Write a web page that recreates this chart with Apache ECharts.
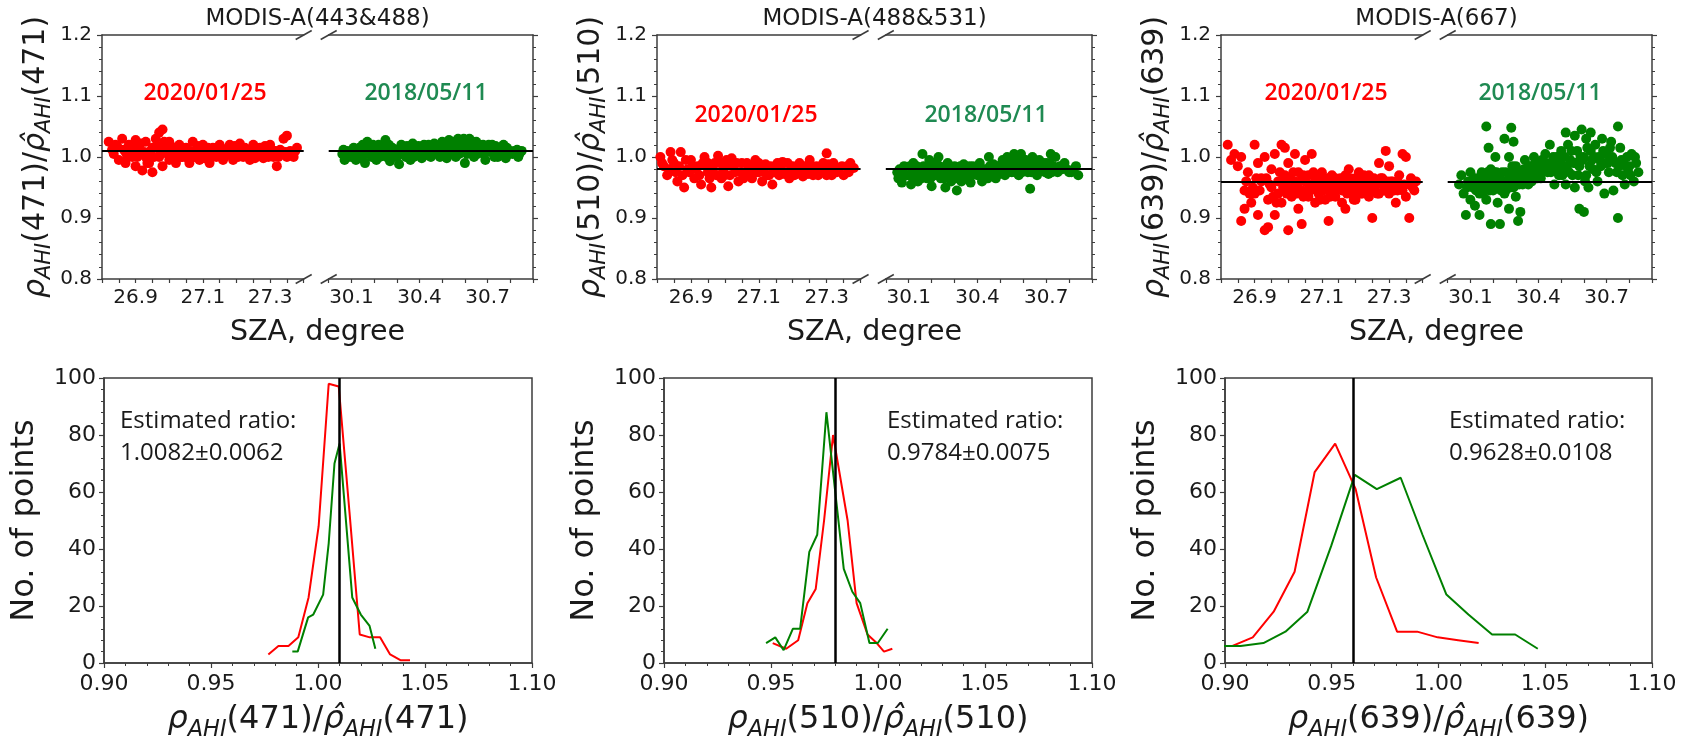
<!DOCTYPE html>
<html><head><meta charset="utf-8">
<script src="https://cdn.jsdelivr.net/npm/echarts@6/dist/echarts.min.js"></script>
<style>html,body{margin:0;padding:0;background:#fff}#c{width:1691px;height:742px}</style>
</head><body><div id="c"></div>
<script>
// ---------------- DATA ----------------
const topTitles = ['MODIS-A(443&488)', 'MODIS-A(488&531)', 'MODIS-A(667)'];
const bands = ['471', '510', '639'];
const ratios = [1.0082, 0.9784, 0.9628];
const ratioSd = [0.0062, 0.0075, 0.0108];
const dateRed = '2020/01/25';
const dateGreen = '2018/05/11';
const yTicksTop = [0.8, 0.9, 1.0, 1.1, 1.2];
const xRangeLeft = [26.8, 27.4];
const xRangeRight = [30.0, 30.9];
const xTicksLeft = [26.9, 27.1, 27.3];
const xTicksRight = [30.1, 30.4, 30.7];
const xTicksBottom = [0.90, 0.95, 1.00, 1.05, 1.10];
const yTicksBottom = [0, 20, 40, 60, 80, 100];

const p1Red = [[26.82,1.025],[26.83,1.012],[26.84,1.02],[26.85,0.995],[26.86,1.03],[26.87,1.008],[26.87,0.99],[26.88,1.02],[26.89,1.0],[26.9,1.028],[26.9,0.985],[26.91,1.012],[26.92,0.978],[26.93,1.0],[26.93,1.025],[26.94,0.99],[26.95,1.015],[26.95,0.975],[26.96,1.03],[26.97,1.0],[26.97,1.04],[26.98,1.045],[26.98,0.985],[26.99,1.015],[27.0,0.995],[27.0,1.025],[27.01,1.01],[27.02,0.99],[27.03,1.02],[27.04,1.0],[27.05,1.015],[27.05,1.005],[27.06,0.99],[27.07,1.025],[27.08,1.005],[27.09,0.995],[27.1,1.02],[27.11,1.005],[27.12,0.99],[27.12,1.01],[27.13,1.015],[27.14,1.0],[27.15,1.02],[27.16,0.995],[27.17,1.01],[27.18,1.02],[27.18,1.005],[27.19,0.995],[27.2,1.01],[27.21,1.022],[27.22,1.0],[27.23,1.012],[27.24,0.995],[27.25,1.02],[27.25,1.005],[27.26,1.005],[27.27,1.015],[27.28,0.998],[27.29,1.01],[27.3,1.02],[27.3,1.005],[27.31,1.0],[27.32,0.985],[27.33,1.012],[27.34,1.03],[27.35,1.035],[27.35,1.0],[27.36,1.01],[27.37,1.0],[27.38,1.015],
[26.835,1.005],[26.845,1.018],[26.865,1.012],[26.875,1.0],[26.885,1.01],[26.895,1.015],[26.905,1.0],[26.915,1.022],[26.925,1.008],[26.935,0.99],[26.945,1.01],[26.955,1.0],[26.965,1.018],[26.975,1.008],[26.985,1.025],[26.995,1.005],[27.005,1.018],[27.015,0.998],[27.025,1.008],[27.035,1.0],[27.045,1.012],[27.055,0.998],[27.065,1.01],[27.075,1.0],[27.085,1.018],[27.095,1.008],[27.105,0.998],[27.115,1.015],[27.125,1.002],[27.135,1.005],[27.145,1.012],[27.155,1.005],[27.165,1.0],[27.175,1.015],[27.185,1.01],[27.195,1.018],[27.205,1.0],[27.215,1.008],[27.225,1.015],[27.235,1.003],[27.245,1.01],[27.255,0.998],[27.265,1.012],[27.275,1.006],[27.285,1.018],[27.295,1.0],[27.305,1.012],[27.315,1.01],[27.325,1.0],[27.345,1.008],[27.365,1.005],[27.375,1.01]];
const p1Green = [[30.06,1.005],[30.07,0.995],[30.08,1.01],[30.1,1.0],[30.11,1.015],[30.12,0.995],[30.14,1.008],[30.15,1.02],[30.16,0.99],[30.17,1.025],[30.18,1.005],[30.2,1.015],[30.21,0.995],[30.22,1.02],[30.23,1.005],[30.25,1.028],[30.26,1.01],[30.27,0.993],[30.28,1.015],[30.3,1.0],[30.31,0.988],[30.32,1.02],[30.33,1.005],[30.35,1.012],[30.36,0.995],[30.37,1.022],[30.39,1.005],[30.4,1.015],[30.41,0.998],[30.43,1.01],[30.44,1.02],[30.45,1.0],[30.47,1.015],[30.48,1.005],[30.5,1.025],[30.51,1.01],[30.52,0.998],[30.53,1.028],[30.55,1.015],[30.56,1.0],[30.57,1.03],[30.58,1.012],[30.6,1.025],[30.6,0.99],[30.61,1.005],[30.62,1.03],[30.63,1.015],[30.64,1.0],[30.65,1.025],[30.67,1.01],[30.68,1.02],[30.69,0.995],[30.7,1.01],[30.72,1.02],[30.73,1.0],[30.74,1.012],[30.76,1.005],[30.77,1.02],[30.78,0.998],[30.8,1.01],[30.81,1.005],[30.83,1.012],[30.84,1.005],[30.85,1.01],
[30.065,1.012],[30.085,1.0],[30.095,1.008],[30.105,1.012],[30.125,1.005],[30.135,1.015],[30.145,0.998],[30.155,1.01],[30.165,1.005],[30.175,1.012],[30.19,1.0],[30.195,1.02],[30.205,1.008],[30.215,1.012],[30.225,1.0],[30.235,1.015],[30.245,1.005],[30.255,1.0],[30.265,1.02],[30.275,1.008],[30.285,1.003],[30.295,1.012],[30.305,1.01],[30.315,1.005],[30.325,1.01],[30.34,1.0],[30.345,1.018],[30.355,1.005],[30.365,1.01],[30.375,1.0],[30.38,1.012],[30.395,1.018],[30.405,1.005],[30.415,1.01],[30.42,1.02],[30.435,1.003],[30.445,1.01],[30.455,1.015],[30.46,1.005],[30.465,1.022],[30.475,1.01],[30.485,1.018],[30.49,1.0],[30.495,1.012],[30.505,1.018],[30.515,1.022],[30.525,1.012],[30.535,1.005],[30.54,1.018],[30.545,1.025],[30.555,1.008],[30.565,1.02],[30.575,1.005],[30.585,1.022],[30.59,1.01],[30.595,1.03],[30.605,1.015],[30.615,1.02],[30.625,1.008],[30.635,1.025],[30.645,1.012],[30.655,1.005],[30.66,1.018],[30.675,1.015],[30.685,1.005],[30.695,1.015],[30.705,1.02],[30.715,1.008],[30.725,1.012],[30.735,1.018],[30.745,1.0],[30.755,1.015],[30.765,1.01],[30.775,1.008],[30.785,1.015],[30.795,1.005],[30.82,1.01],[30.835,1.0]];
const p2Red = [[26.81,1.0],[26.82,0.985],[26.83,0.97],[26.84,1.008],[26.85,0.99],[26.86,0.96],[26.87,1.008],[26.88,0.95],[26.89,0.98],[26.9,0.995],[26.91,0.965],[26.92,0.985],[26.93,0.955],[26.94,1.0],[26.95,0.975],[26.95,0.99],[26.96,0.95],[26.97,0.99],[26.98,1.002],[26.99,0.965],[27.0,0.985],[27.0,0.97],[27.01,0.952],[27.02,0.998],[27.03,0.975],[27.04,0.96],[27.05,0.99],[27.05,0.975],[27.06,0.97],[27.07,0.982],[27.08,0.965],[27.09,0.995],[27.1,0.975],[27.1,0.99],[27.11,0.96],[27.12,0.988],[27.13,0.97],[27.14,0.955],[27.15,0.985],[27.15,0.975],[27.16,0.97],[27.17,0.992],[27.18,0.975],[27.19,0.965],[27.2,0.985],[27.2,0.975],[27.21,0.972],[27.22,0.99],[27.23,0.968],[27.24,0.98],[27.25,0.995],[27.25,0.98],[27.26,0.97],[27.27,0.985],[27.28,0.975],[27.29,0.99],[27.3,1.006],[27.3,0.97],[27.31,0.98],[27.32,0.99],[27.33,0.975],[27.35,0.97],[27.36,0.985],[27.37,0.99],[27.38,0.982],
[26.815,0.99],[26.835,0.98],[26.845,0.995],[26.855,0.975],[26.865,0.985],[26.875,0.97],[26.885,0.995],[26.895,0.975],[26.905,0.985],[26.915,0.98],[26.925,0.97],[26.935,0.99],[26.945,0.985],[26.955,0.965],[26.965,0.98],[26.975,0.97],[26.985,0.99],[26.995,0.978],[27.005,0.995],[27.015,0.97],[27.025,0.985],[27.035,0.99],[27.045,0.975],[27.055,0.965],[27.065,0.99],[27.075,0.972],[27.085,0.985],[27.095,0.975],[27.105,0.985],[27.115,0.975],[27.125,0.97],[27.135,0.985],[27.145,0.975],[27.155,0.99],[27.165,0.98],[27.175,0.972],[27.185,0.99],[27.195,0.978],[27.205,0.97],[27.215,0.985],[27.225,0.978],[27.235,0.985],[27.245,0.972],[27.255,0.985],[27.265,0.978],[27.275,0.97],[27.285,0.985],[27.295,0.975],[27.305,0.988],[27.315,0.97],[27.325,0.98],[27.345,0.985],[27.365,0.975]];
const p2Green = [[30.05,0.975],[30.06,0.98],[30.07,0.958],[30.08,0.985],[30.1,0.97],[30.11,0.955],[30.12,0.99],[30.13,0.975],[30.14,0.96],[30.16,1.005],[30.17,0.98],[30.18,0.965],[30.19,0.995],[30.2,0.952],[30.21,0.975],[30.22,0.99],[30.23,1.0],[30.24,0.965],[30.25,0.98],[30.26,0.95],[30.27,0.99],[30.28,0.97],[30.3,0.985],[30.31,0.945],[30.32,0.975],[30.33,0.96],[30.34,0.988],[30.36,0.972],[30.37,0.958],[30.38,0.985],[30.4,0.97],[30.41,0.99],[30.42,0.96],[30.44,0.98],[30.45,1.0],[30.46,0.97],[30.47,0.988],[30.48,0.965],[30.5,0.98],[30.51,0.995],[30.52,0.97],[30.53,1.0],[30.54,0.985],[30.55,0.975],[30.56,1.005],[30.57,0.99],[30.58,0.97],[30.59,1.005],[30.6,0.985],[30.61,0.995],[30.62,0.975],[30.63,0.948],[30.64,1.0],[30.65,0.985],[30.66,0.97],[30.67,0.995],[30.68,0.98],[30.7,0.99],[30.71,0.972],[30.72,1.005],[30.73,0.985],[30.74,1.0],[30.75,0.975],[30.77,0.98],[30.78,0.99],[30.8,0.975],[30.82,0.98],[30.84,0.97],
[30.055,0.965],[30.075,0.975],[30.09,0.97],[30.105,0.985],[30.115,0.975],[30.125,0.965],[30.135,0.985],[30.145,0.975],[30.155,0.965],[30.165,0.985],[30.175,0.97],[30.185,0.98],[30.195,0.965],[30.205,0.985],[30.215,0.97],[30.225,0.975],[30.235,0.985],[30.245,0.975],[30.255,0.965],[30.265,0.975],[30.275,0.98],[30.285,0.96],[30.295,0.975],[30.305,0.965],[30.315,0.978],[30.325,0.985],[30.335,0.975],[30.345,0.965],[30.355,0.98],[30.365,0.985],[30.375,0.97],[30.385,0.975],[30.395,0.98],[30.405,0.975],[30.415,0.97],[30.425,0.98],[30.435,0.975],[30.445,0.965],[30.455,0.985],[30.465,0.98],[30.475,0.975],[30.485,0.985],[30.495,0.972],[30.505,0.988],[30.515,0.98],[30.525,0.99],[30.535,0.975],[30.545,0.995],[30.555,0.985],[30.565,0.975],[30.575,0.995],[30.585,0.985],[30.595,0.975],[30.605,0.995],[30.615,0.98],[30.625,0.99],[30.635,0.975],[30.645,0.99],[30.655,0.975],[30.665,0.985],[30.675,0.98],[30.685,0.99],[30.695,0.975],[30.705,0.985],[30.715,0.99],[30.725,0.975],[30.735,0.98],[30.76,0.985],[30.79,0.98],[30.81,0.975],[30.83,0.985]];
const p3Red = [[26.82,1.02],[26.83,0.995],[26.84,1.005],[26.85,0.985],[26.86,1.0],[26.86,0.895],[26.87,0.945],[26.87,0.915],[26.88,0.975],[26.89,0.925],[26.9,1.02],[26.9,0.94],[26.91,0.99],[26.91,0.905],[26.92,0.96],[26.92,0.965],[26.93,0.88],[26.93,1.0],[26.94,0.93],[26.94,0.885],[26.95,0.95],[26.95,0.98],[26.96,0.905],[26.96,1.005],[26.97,0.94],[26.97,0.96],[26.98,1.02],[26.98,0.925],[26.99,0.97],[26.99,1.015],[27.0,0.88],[27.0,0.95],[27.0,0.99],[27.01,0.935],[27.02,1.005],[27.02,0.96],[27.03,0.915],[27.03,0.975],[27.04,0.945],[27.04,0.89],[27.05,0.96],[27.05,0.995],[27.06,0.935],[27.06,0.97],[27.07,1.005],[27.07,0.95],[27.08,0.925],[27.08,0.965],[27.09,0.94],[27.1,0.975],[27.1,0.955],[27.11,0.93],[27.11,0.96],[27.12,0.895],[27.12,0.945],[27.13,0.97],[27.13,0.95],[27.14,0.935],[27.14,0.965],[27.15,0.955],[27.16,0.945],[27.16,0.925],[27.17,0.97],[27.17,0.915],[27.18,0.95],[27.18,0.98],[27.19,0.96],[27.19,0.94],[27.2,0.965],[27.2,0.93],[27.21,0.975],[27.21,0.95],[27.22,0.94],[27.22,0.96],[27.23,0.955],[27.24,0.935],[27.24,0.97],[27.25,0.9],[27.25,0.95],[27.26,0.96],[27.27,0.94],[27.27,0.99],[27.28,0.965],[27.29,0.95],[27.29,1.01],[27.3,0.985],[27.3,0.94],[27.31,0.96],[27.32,0.925],[27.32,0.955],[27.33,0.97],[27.34,1.005],[27.34,0.945],[27.35,0.935],[27.35,1.0],[27.36,0.9],[27.36,0.955],[27.37,0.95],[27.38,0.96],
[26.875,0.96],[26.895,0.95],[26.915,0.945],[26.935,0.965],[26.955,0.935],[26.975,0.975],[26.985,0.95],[26.995,0.94],[27.005,0.965],[27.015,0.95],[27.025,0.94],[27.035,0.96],[27.045,0.97],[27.055,0.945],[27.065,0.955],[27.075,0.975],[27.085,0.945],[27.095,0.96],[27.105,0.945],[27.115,0.965],[27.125,0.955],[27.135,0.94],[27.145,0.95],[27.155,0.965],[27.165,0.955],[27.175,0.94],[27.185,0.965],[27.195,0.95],[27.205,0.955],[27.215,0.94],[27.225,0.97],[27.235,0.945],[27.245,0.96],[27.255,0.945],[27.265,0.955],[27.275,0.965],[27.285,0.945],[27.295,0.96],[27.305,0.95],[27.315,0.945],[27.325,0.96],[27.345,0.955],[27.365,0.965],[27.375,0.945],
[27.005,0.945],[27.025,0.955],[27.045,0.935],[27.065,0.945],[27.085,0.955],[27.105,0.965],[27.125,0.935],[27.145,0.96],[27.165,0.965],[27.185,0.95],[27.205,0.945],[27.225,0.95],[27.245,0.945],[27.265,0.94],[27.285,0.955],[27.305,0.96],[27.325,0.945],[26.965,0.925],[26.945,0.955],[26.905,0.965],[26.885,0.94],[26.985,0.96],[27.015,0.975],[27.095,0.93],[27.195,0.93],[27.255,0.965],[27.335,0.95]];
const p3Green = [[30.05,0.955],[30.06,0.97],[30.07,0.94],[30.08,0.905],[30.09,0.96],[30.1,0.93],[30.1,0.975],[30.11,0.95],[30.12,0.92],[30.13,0.965],[30.14,0.94],[30.14,0.905],[30.15,0.975],[30.16,0.95],[30.17,1.05],[30.17,0.93],[30.18,1.015],[30.18,0.96],[30.19,0.89],[30.19,0.98],[30.2,0.945],[30.21,0.965],[30.21,1.0],[30.22,0.925],[30.23,0.955],[30.23,0.89],[30.24,0.975],[30.25,1.03],[30.25,0.94],[30.26,0.96],[30.27,1.0],[30.27,0.915],[30.28,0.97],[30.28,1.048],[30.29,0.95],[30.29,1.025],[30.3,0.985],[30.3,0.935],[30.31,0.965],[30.31,0.895],[30.32,0.91],[30.32,0.975],[30.33,0.955],[30.34,0.995],[30.35,0.97],[30.36,0.985],[30.37,0.96],[30.38,1.0],[30.39,0.975],[30.4,0.99],[30.41,0.965],[30.42,0.98],[30.43,1.005],[30.44,0.975],[30.45,1.02],[30.46,0.99],[30.47,0.955],[30.48,1.0],[30.49,0.97],[30.5,1.01],[30.51,0.985],[30.52,1.04],[30.52,0.955],[30.53,1.02],[30.54,0.995],[30.55,0.97],[30.56,1.035],[30.56,0.95],[30.57,1.01],[30.58,0.915],[30.58,0.985],[30.59,1.045],[30.6,1.0],[30.6,0.91],[30.61,0.97],[30.61,1.03],[30.62,0.95],[30.63,1.01],[30.63,1.04],[30.64,0.98],[30.65,1.02],[30.66,0.96],[30.67,0.995],[30.68,1.03],[30.69,0.94],[30.7,1.005],[30.71,0.975],[30.72,1.025],[30.73,0.945],[30.74,0.99],[30.75,1.05],[30.75,0.9],[30.76,1.015],[30.77,0.97],[30.78,0.955],[30.79,1.0],[30.8,0.985],[30.81,1.005],[30.82,0.96],[30.83,0.99],[30.84,0.975],
[30.085,0.95],[30.115,0.965],[30.125,0.945],[30.145,0.96],[30.165,0.97],[30.175,0.955],[30.185,0.945],[30.195,0.965],[30.205,0.975],[30.215,0.955],[30.225,0.97],[30.235,0.945],[30.245,0.96],[30.255,0.975],[30.265,0.95],[30.275,0.965],[30.285,0.985],[30.295,0.96],[30.305,0.975],[30.315,0.955],[30.325,0.97],[30.335,0.98],[30.345,0.965],[30.355,0.985],[30.365,0.975],[30.375,0.98],[30.385,0.99],[30.395,0.965],[30.405,0.975],[30.415,0.995],[30.425,0.985],[30.435,0.99],[30.455,0.975],[30.465,1.0],[30.475,0.985],[30.495,0.99],[30.505,0.97],[30.515,1.0],[30.535,0.975],[30.545,1.01],[30.565,0.99],[30.575,0.97],[30.595,0.995],[30.615,1.015],[30.625,0.985],[30.645,1.0],[30.655,0.975],[30.675,0.985],[30.685,1.01],[30.705,0.99],[30.725,1.0],[30.745,0.975],[30.765,0.995],[30.785,0.985],[30.805,0.97],[30.825,1.0],
[30.105,0.955],[30.135,0.95],[30.155,0.94],[30.175,0.975],[30.195,0.95],[30.215,0.975],[30.235,0.96],[30.255,0.945],[30.275,0.95],[30.295,0.975],[30.315,0.97],[30.335,0.96],[30.355,0.955],[30.375,0.965],[30.395,0.985],[30.415,0.975],[30.445,0.985],[30.485,0.975],[30.525,0.985],[30.555,0.99],[30.585,1.0],[30.605,0.96],[30.635,0.995],[30.665,1.0],[30.695,0.99],[30.715,1.015],[30.755,0.985],[30.775,0.99],[30.795,0.975]];

const h1Red = [[0.9768,3],[0.9815,6],[0.9862,6],[0.9908,9],[0.9956,23],[1.0003,48],[1.0050,98],[1.0097,97],[1.0147,53],[1.0195,10],[1.0242,9],[1.0290,9],[1.0337,3],[1.0385,1],[1.0430,1]];
const h1Green = [[0.9880,4],[0.9905,4],[0.9954,16],[0.9978,17],[1.0024,24],[1.0050,42],[1.0077,70],[1.0101,77],[1.0160,23],[1.0200,17],[1.0241,13],[1.0268,5]];
const h2Red = [[0.9508,7],[0.9571,5],[0.9627,8],[0.9670,21],[0.9709,26],[0.9748,50],[0.9790,80],[0.9858,50],[0.9900,21],[0.9951,10],[0.9994,7],[1.0028,4],[1.0067,5]];
const h2Green = [[0.9477,7],[0.9520,9],[0.9559,4.5],[0.9602,12],[0.9636,12],[0.9679,39],[0.9716,45],[0.9759,88],[0.9840,33],[0.9880,25],[0.9917,21],[0.9960,7],[0.9999,7],[1.0045,12]];
const h3Red = [[0.9035,6],[0.9130,9],[0.9228,18],[0.9326,32],[0.9420,67],[0.9516,77],[0.9612,61],[0.9708,30],[0.9806,11],[0.9900,11],[0.9996,9],[1.0092,8],[1.0188,7]];
const h3Green = [[0.8966,6],[0.9073,6],[0.9180,7],[0.9283,11],[0.9386,18],[0.9497,41],[0.9608,66],[0.9711,61],[0.9823,65],[0.9925,45],[1.0037,24],[1.0140,17],[1.0251,10],[1.0359,10],[1.0465,5]];

const scatterRed = [p1Red, p2Red, p3Red];
const scatterGreen = [p1Green, p2Green, p3Green];
const histRed = [h1Red, h2Red, h3Red];
const histGreen = [h1Green, h2Green, h3Green];

// ---------------- LAYOUT / STYLE ----------------
const AX = '#3c3c3c', TXT = '#1a1a1a', RED = '#ff0000', GREEN = '#008000', GTXT = '#1f8a52';
const FONT = 'DejaVu Sans', FONT2 = 'Open Sans';
const topLayout = [{l:102, r:533}, {l:657, r:1092}, {l:1221, r:1652}];
const botLayout = [{l:104, r:532}, {l:664, r:1092}, {l:1225, r:1652}];
const TOP_T = 35, TOP_B = 279, BOT_T = 378, BOT_B = 663;
const dateY = [93, 115, 93];
const dateRedX = [103, 99, 105];
const dateGreenX = [324, 329, 319];
const estX = [16, 223, 224];

const grids = [], xAxes = [], yAxes = [], series = [], graphics = [];
const lineStyleAx = {color: AX, width: 1.5};

function rhoText(band, F) {
  return {
    text: '{i|ρ}{s|AHI}{n|(' + band + ')/}{i|ρ̂}{s|AHI}{n|(' + band + ')}',
    rich: {
      i: {fontFamily: FONT, fontStyle: 'italic', fontSize: F, lineHeight: F * 1.3, fill: TXT},
      s: {fontFamily: FONT, fontStyle: 'italic', fontSize: F * 0.7, lineHeight: F * 0.7, verticalAlign: 'bottom', fill: TXT},
      n: {fontFamily: FONT, fontSize: F, lineHeight: F * 1.3, fill: TXT}
    }
  };
}
function txt(x, y, text, size, opts) {
  opts = opts || {};
  return {type: 'text', x: x, y: y, rotation: opts.rot || 0, silent: true,
    style: Object.assign({text: text, fontSize: size, fontFamily: opts.family || FONT, fontWeight: opts.weight || 'normal',
      fill: opts.fill || TXT, align: opts.align || 'center', verticalAlign: opts.va || 'middle', lineHeight: opts.lh}, opts.extra || {})};
}
function brk(x, y) {
  return {type: 'line', silent: true, shape: {x1: x - 8, y1: y + 4.5, x2: x + 8, y2: y - 4.5}, style: {stroke: AX, lineWidth: 1.5}};
}

function subGrid(l, r, xr, xTicks, xInt, yRight, color, data, ratio) {
  const g = grids.length;
  grids.push({left: l, top: TOP_T, width: r - l, height: TOP_B - TOP_T});
  const xi = xAxes.length;
  xAxes.push({gridIndex: g, type: 'value', min: xr[0], max: xr[1], interval: xInt,
    axisLine: {onZero: false, lineStyle: lineStyleAx},
    axisTick: {length: 4, lineStyle: {color: AX, width: 1.2}},
    axisLabel: {customValues: xTicks, formatter: v => v.toFixed(1), fontSize: 20, color: TXT, fontFamily: FONT, margin: 9},
    splitLine: {show: false}});
  xAxes.push({gridIndex: g, type: 'value', position: 'top', min: xr[0], max: xr[1],
    axisLine: {onZero: false, lineStyle: lineStyleAx}, axisTick: {show: false}, axisLabel: {show: false}, splitLine: {show: false}});
  const yi = yAxes.length;
  yAxes.push({gridIndex: g, type: 'value', position: yRight ? 'right' : 'left',
    min: yTicksTop[0], max: yTicksTop[yTicksTop.length - 1], interval: 0.1,
    axisLine: {show: true, onZero: false, lineStyle: lineStyleAx},
    axisTick: {show: true, length: 5, lineStyle: {color: AX, width: 1.2}},
    minorTick: {show: true, splitNumber: 5, length: 3, lineStyle: {color: AX, width: 1}},
    axisLabel: {show: !yRight, customValues: yTicksTop, formatter: v => v.toFixed(1), fontSize: 20, color: TXT, fontFamily: FONT, margin: 10},
    splitLine: {show: false}});
  series.push({type: 'scatter', xAxisIndex: xi, yAxisIndex: yi, data: data, symbolSize: 10,
    itemStyle: {color: color, opacity: 1}, animation: false, silent: true,
    markLine: {silent: true, symbol: ['none', 'none'], label: {show: false}, animation: false,
      lineStyle: {color: '#000', width: 2, type: 'solid'}, data: [{yAxis: ratio}]}});
}

for (let i = 0; i < 3; i++) {
  const L = topLayout[i].l, R = topLayout[i].r;
  const gs = L + 0.468 * (R - L), ge = L + 0.526 * (R - L);
  subGrid(L, gs, xRangeLeft, xTicksLeft, 0.05, false, RED, scatterRed[i], ratios[i]);
  subGrid(ge, R, xRangeRight, xTicksRight, 0.1, true, GREEN, scatterGreen[i], ratios[i]);
  graphics.push(brk(gs, TOP_T), brk(gs, TOP_B), brk(ge, TOP_T), brk(ge, TOP_B));
  graphics.push(txt((L + R) / 2, 19, topTitles[i], 23));
  const yl = rhoText(bands[i], 30);
  graphics.push(txt(L - 66, (TOP_T + TOP_B) / 2, yl.text, 30, {rot: Math.PI / 2, extra: {rich: yl.rich}}));
  graphics.push(txt((L + R) / 2, 333, 'SZA, degree', 28.5));
  graphics.push(txt(L + dateRedX[i], dateY[i], dateRed, 23, {family: FONT2, fill: RED, weight: 600}));
  graphics.push(txt(L + dateGreenX[i], dateY[i], dateGreen, 23, {family: FONT2, fill: GTXT, weight: 600}));

  // bottom histogram panel
  const bl = botLayout[i].l, br = botLayout[i].r;
  const g = grids.length;
  grids.push({left: bl, top: BOT_T, width: br - bl, height: BOT_B - BOT_T, show: true, borderColor: AX, borderWidth: 1.5, backgroundColor: 'transparent'});
  const xi = xAxes.length;
  xAxes.push({gridIndex: g, type: 'value', min: xTicksBottom[0], max: xTicksBottom[xTicksBottom.length - 1], interval: 0.05,
    axisLine: {onZero: false, lineStyle: lineStyleAx},
    axisTick: {length: 5, lineStyle: {color: AX, width: 1.2}},
    minorTick: {show: true, splitNumber: 5, length: 3, lineStyle: {color: AX, width: 1}},
    axisLabel: {customValues: xTicksBottom, formatter: v => v.toFixed(2), fontSize: 22, color: TXT, fontFamily: FONT, margin: 10},
    splitLine: {show: false}});
  const yi = yAxes.length;
  yAxes.push({gridIndex: g, type: 'value', min: yTicksBottom[0], max: yTicksBottom[yTicksBottom.length - 1], interval: 20,
    axisLine: {show: true, onZero: false, lineStyle: lineStyleAx},
    axisTick: {show: true, length: 5, lineStyle: {color: AX, width: 1.2}},
    minorTick: {show: true, splitNumber: 5, length: 3, lineStyle: {color: AX, width: 1}},
    axisLabel: {customValues: yTicksBottom, fontSize: 22, color: TXT, fontFamily: FONT, margin: 8},
    splitLine: {show: false}});
  series.push({type: 'line', xAxisIndex: xi, yAxisIndex: yi, data: histRed[i], showSymbol: false, symbol: 'none',
    lineStyle: {color: RED, width: 2}, itemStyle: {color: RED}, animation: false, silent: true, clip: true});
  series.push({type: 'line', xAxisIndex: xi, yAxisIndex: yi, data: histGreen[i], showSymbol: false, symbol: 'none',
    lineStyle: {color: GREEN, width: 2}, itemStyle: {color: GREEN}, animation: false, silent: true, clip: true,
    markLine: {silent: true, symbol: ['none', 'none'], label: {show: false}, animation: false,
      lineStyle: {color: '#000', width: 2.5, type: 'solid'}, data: [{xAxis: ratios[i]}]}});
  graphics.push(txt(bl - 79, (BOT_T + BOT_B) / 2, 'No. of points', 32, {rot: Math.PI / 2}));
  const xl = rhoText(bands[i], 32);
  graphics.push(txt((bl + br) / 2, 720, xl.text, 32, {extra: {rich: xl.rich}}));
  graphics.push(txt(bl + estX[i], 405, 'Estimated ratio:\n' + ratios[i].toFixed(4) + '±' + ratioSd[i].toFixed(4), 24,
    {family: FONT2, align: 'left', va: 'top', lh: 32}));
}

const chart = echarts.init(document.getElementById('c'), null, {renderer: 'canvas'});
chart.setOption({
  backgroundColor: '#ffffff',
  animation: false,
  grid: grids, xAxis: xAxes, yAxis: yAxes, series: series,
  graphic: {elements: graphics}
});
</script></body></html>
